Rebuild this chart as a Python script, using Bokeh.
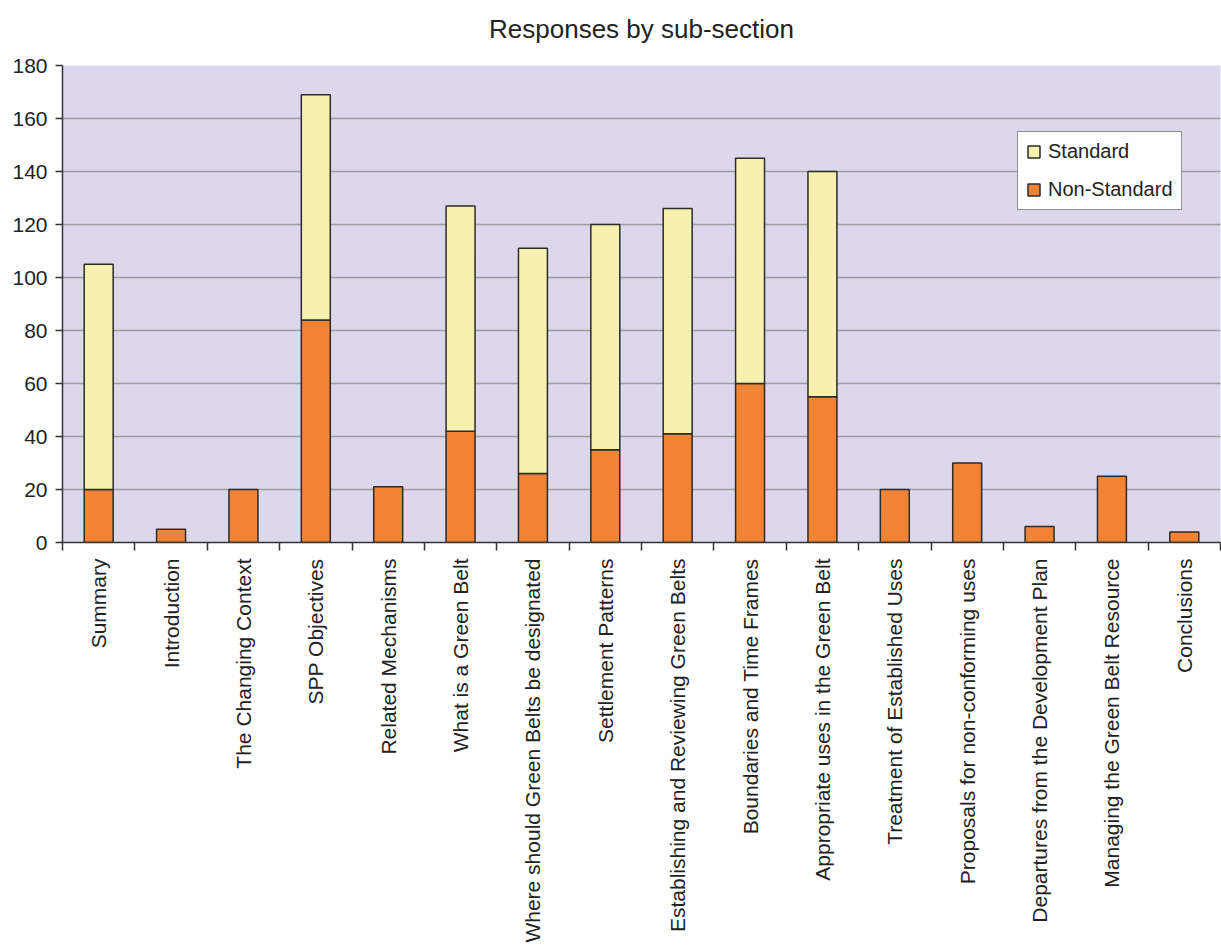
from bokeh.plotting import figure
from bokeh.models import FixedTicker, Range1d, Legend, LegendItem, Title
from bokeh.embed import file_html
from bokeh.resources import INLINE
import numpy as np

title_text = "Responses by sub-section"
categories = [
    "Summary", "Introduction", "The Changing Context", "SPP Objectives",
    "Related Mechanisms", "What is a Green Belt", "Where should Green Belts be designated",
    "Settlement Patterns", "Establishing and Reviewing Green Belts",
    "Boundaries and Time Frames", "Appropriate uses in the Green Belt",
    "Treatment of Established Uses", "Proposals for non-conforming uses",
    "Departures from the Development Plan", "Managing the Green Belt Resource",
    "Conclusions",
]
non_standard = [20, 5, 20, 84, 21, 42, 26, 35, 41, 60, 55, 20, 30, 6, 25, 4]
standard = [85, 0, 0, 85, 0, 85, 85, 85, 85, 85, 85, 0, 0, 0, 0, 0]
y_ticks = [0, 20, 40, 60, 80, 100, 120, 140, 160, 180]

FONT = "Liberation Sans"
ORANGE = "#F08434"
YELLOW = "#F6F1AE"
BG = "#DCD7EB"

n = len(categories)
xc = np.arange(n)
ns = np.array(non_standard)
st = np.array(standard)

p = figure(width=1221, height=945, output_backend="svg", toolbar_location=None,
           x_range=Range1d(-0.5, n - 0.5), y_range=Range1d(0, 180),
           min_border_left=62, min_border_right=1, min_border_top=65, min_border_bottom=300,
           title=title_text)
p.background_fill_color = BG
p.border_fill_color = "white"
p.outline_line_color = None

p.title.text_font = FONT
p.title.text_font_size = "26px"
p.title.text_font_style = "normal"
p.title.text_color = "#222222"
p.title.align = "center"
p.title.standoff = 10

# invisible spacer between title and plot frame
spacer = Title(text=" ", text_font_size="1px", standoff=14)
p.add_layout(spacer, "above")

# bars
r_ns = p.vbar(x=xc, bottom=0, top=ns, width=0.4, fill_color=ORANGE,
              line_color="#2b2b2b", line_width=1.5)
mask = st > 0
r_st = p.vbar(x=xc[mask], bottom=ns[mask], top=(ns + st)[mask], width=0.4,
              fill_color=YELLOW, line_color="#2b2b2b", line_width=1.5)

# axes
xa = p.xaxis[0]
xa.ticker = FixedTicker(ticks=list(xc), minor_ticks=list(np.arange(n + 1) - 0.5))
xa.major_label_overrides = {int(i): c for i, c in zip(xc, categories)}
xa.major_label_orientation = np.pi / 2
xa.major_tick_in = 0
xa.major_tick_out = 0
xa.minor_tick_in = 0
xa.minor_tick_out = 8
xa.minor_tick_line_color = "#333333"
xa.minor_tick_line_width = 1.5
xa.axis_line_color = "#333333"
xa.axis_line_width = 1.5
xa.major_label_standoff = 8
xa.major_label_text_font = FONT
xa.major_label_text_font_size = "21px"
xa.major_label_text_color = "#222222"

ya = p.yaxis[0]
ya.ticker = FixedTicker(ticks=y_ticks)
ya.minor_tick_line_color = None
ya.major_tick_in = 0
ya.major_tick_out = 7
ya.major_tick_line_color = "#333333"
ya.major_tick_line_width = 1.5
ya.axis_line_color = "#333333"
ya.axis_line_width = 1.5
ya.major_label_standoff = 8
ya.major_label_text_font = FONT
ya.major_label_text_font_size = "21px"
ya.major_label_text_color = "#222222"

p.xgrid.grid_line_color = None
p.ygrid.ticker = FixedTicker(ticks=y_ticks)
p.ygrid.grid_line_color = "#9c9c9c"
p.ygrid.grid_line_width = 1.5

legend = Legend(items=[LegendItem(label="Standard", renderers=[r_st]),
                       LegendItem(label="Non-Standard", renderers=[r_ns])],
                location=(955, 332))
legend.label_text_font = FONT
legend.label_text_font_size = "20px"
legend.label_text_color = "#222222"
legend.glyph_width = 15
legend.glyph_height = 15
legend.label_height = 20
legend.spacing = 15
legend.padding = 8
legend.margin = 0
legend.label_standoff = 7
legend.border_line_color = "#222222"
legend.border_line_width = 1.5
legend.background_fill_color = "white"
legend.background_fill_alpha = 1
p.add_layout(legend)

open("out.html", "w").write(file_html(p, INLINE))
